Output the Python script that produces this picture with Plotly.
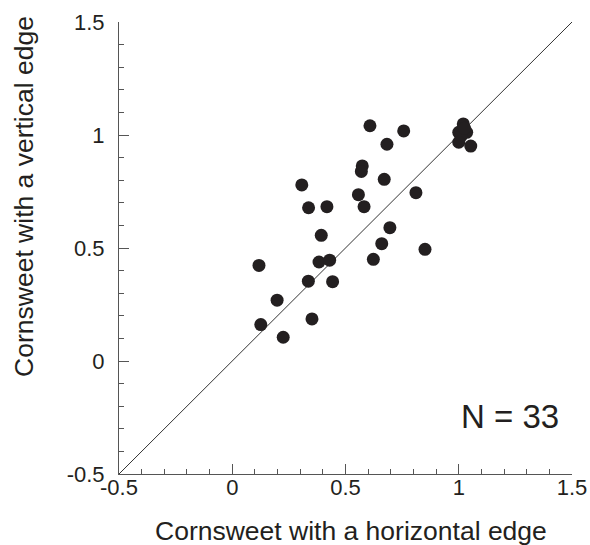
import plotly.graph_objects as go

# Data
horizontal = [0.608, 0.757, 0.683, 0.574, 0.570, 0.671, 0.307, 0.811, 0.557, 0.337,
              0.418, 0.582, 0.696, 0.393, 0.660, 0.851, 0.118, 0.383, 0.430, 0.623,
              0.336, 0.443, 0.198, 0.126, 0.352, 0.225,
              1.020, 1.000, 1.035, 1.010, 1.025, 1.000, 1.053]
vertical = [1.041, 1.018, 0.959, 0.863, 0.839, 0.804, 0.779, 0.745, 0.736, 0.678,
            0.683, 0.683, 0.590, 0.556, 0.519, 0.494, 0.423, 0.438, 0.446, 0.450,
            0.353, 0.351, 0.269, 0.161, 0.186, 0.105,
            1.049, 1.012, 1.012, 0.995, 1.030, 0.968, 0.951]
diag = [-0.5, 1.5]
tick_vals = [-0.5, 0, 0.5, 1, 1.5]
tick_text = ["-0.5", "0", "0.5", "1", "1.5"]

FONT = "Liberation Sans, Arial, sans-serif"
DOT = "#231f20"
AX = "#555555"

fig = go.Figure()
fig.add_trace(go.Scatter(x=diag, y=diag, mode="lines",
                         line=dict(color="#333333", width=1), hoverinfo="skip"))
fig.add_trace(go.Scatter(x=horizontal, y=vertical, mode="markers",
                         marker=dict(size=13, color=DOT, line=dict(width=0))))

axis_common = dict(
    range=[-0.5, 1.5], tickvals=tick_vals, ticktext=tick_text,
    ticks="inside", ticklen=10, tickwidth=1, tickcolor=AX,
    showline=True, linecolor=AX, linewidth=1, showgrid=False, zeroline=False,
    automargin=False,
    tickfont=dict(family=FONT, size=22, color="#231f20"),
    minor=dict(ticks="inside", ticklen=5, tickwidth=1, tickcolor=AX, dtick=0.1, tick0=0,
               showgrid=False),
)
fig.update_xaxes(**axis_common, ticklabelstandoff=-6)
fig.update_yaxes(**axis_common, ticklabelstandoff=9)

fig.add_annotation(text="Cornsweet with a horizontal edge", xref="paper", yref="paper",
                   x=0.5, y=0, xshift=5, yshift=-57, xanchor="center", yanchor="middle",
                   showarrow=False, font=dict(family=FONT, size=26.5, color="#231f20"))
fig.add_annotation(text="Cornsweet with a vertical edge", xref="paper", yref="paper",
                   x=0, y=0.613, xshift=-95, textangle=-90, xanchor="center", yanchor="middle",
                   showarrow=False, font=dict(family=FONT, size=26.5, color="#231f20"))
fig.add_annotation(text="N = 33", xref="paper", yref="paper",
                   x=0.863, y=0.127, xanchor="center", yanchor="middle",
                   showarrow=False, font=dict(family=FONT, size=33, color="#231f20"))

fig.update_layout(width=590, height=545, showlegend=False,
                  margin=dict(l=119, r=18, t=22, b=71),
                  plot_bgcolor="white", paper_bgcolor="white")
fig.write_html("out.html", config={"displayModeBar": False},
               post_script="document.body.style.margin='0px';document.body.style.overflow='hidden';")
